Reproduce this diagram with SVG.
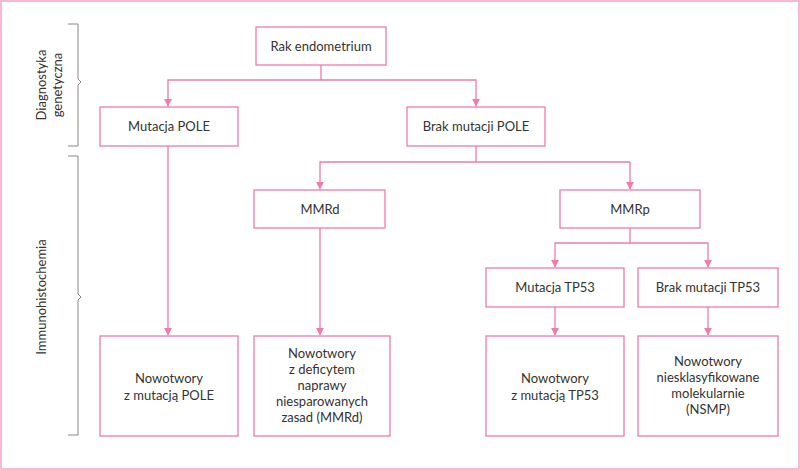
<svg xmlns="http://www.w3.org/2000/svg" width="800" height="470" viewBox="0 0 800 470">
<defs>
<marker id="ar" viewBox="0 0 10 10" refX="9" refY="5" markerWidth="8" markerHeight="8" markerUnits="userSpaceOnUse" orient="auto"><path d="M0,0L10,5L0,10z" fill="#f27aae"/></marker>
<style>
.n{fill:#fff;stroke:#f27aae;stroke-width:1.3}
.t{font-family:Lato,"Noto Sans",sans-serif;font-size:13px;fill:#333;text-anchor:middle}
.c{fill:none;stroke:#f27aae;stroke-width:1.3}
.b{fill:none;stroke:#888;stroke-width:1}
</style>
</defs>
<rect x="1" y="1" width="798" height="468" fill="#fff" stroke="#f5a3c7" stroke-width="1.5"/>
<g id="braces">
<path class="b" d="M68,24H78V79L81,82L78,85V146H68"/>
<path class="b" d="M68,156H78V294L81,297L78,300V435H68"/>
<text class="t" transform="translate(46,85) rotate(-90)">Diagnostyka</text>
<text class="t" transform="translate(62,85) rotate(-90)">genetyczna</text>
<text class="t" transform="translate(46,297) rotate(-90)">Immunohistochemia</text>
</g>
<g id="connectors">
<path class="c" d="M321,65V80H168V106" marker-end="url(#ar)"/>
<path class="c" d="M321,80H476V106" marker-end="url(#ar)"/>
<path class="c" d="M476,146V162H320V189" marker-end="url(#ar)"/>
<path class="c" d="M476,162H630V189" marker-end="url(#ar)"/>
<path class="c" d="M168,146V335" marker-end="url(#ar)"/>
<path class="c" d="M320,228V335" marker-end="url(#ar)"/>
<path class="c" d="M630,228V243H555V267" marker-end="url(#ar)"/>
<path class="c" d="M630,243H708V267" marker-end="url(#ar)"/>
<path class="c" d="M555,307V335" marker-end="url(#ar)"/>
<path class="c" d="M708,307V335" marker-end="url(#ar)"/>
</g>
<g id="rak"><rect class="n" x="256" y="27" width="130" height="38"/><text class="t" x="321" y="51">Rak endometrium</text></g>
<g id="pole"><rect class="n" x="100" y="107" width="138" height="39"/><text class="t" x="169" y="131">Mutacja POLE</text></g>
<g id="brakpole"><rect class="n" x="407" y="107" width="138" height="39"/><text class="t" x="476" y="131">Brak mutacji POLE</text></g>
<g id="mmrd"><rect class="n" x="254" y="190" width="131" height="38"/><text class="t" x="320" y="214">MMRd</text></g>
<g id="mmrp"><rect class="n" x="560" y="190" width="140" height="38"/><text class="t" x="630" y="214">MMRp</text></g>
<g id="tp53"><rect class="n" x="486" y="268" width="138" height="39"/><text class="t" x="555" y="292">Mutacja TP53</text></g>
<g id="braktp53"><rect class="n" x="638" y="268" width="140" height="39"/><text class="t" x="708" y="292">Brak mutacji TP53</text></g>
<g id="b1"><rect class="n" x="100" y="336" width="138" height="100"/><text class="t" x="169" y="383">Nowotwory</text><text class="t" x="169" y="400">z mutacją POLE</text></g>
<g id="b2"><rect class="n" x="254" y="336" width="136" height="100"/><text class="t" x="322" y="358">Nowotwory</text><text class="t" x="322" y="374">z deficytem</text><text class="t" x="322" y="390">naprawy</text><text class="t" x="322" y="406">niesparowanych</text><text class="t" x="322" y="422">zasad (MMRd)</text></g>
<g id="b3"><rect class="n" x="486" y="336" width="138" height="100"/><text class="t" x="555" y="383">Nowotwory</text><text class="t" x="555" y="400">z mutacją TP53</text></g>
<g id="b4"><rect class="n" x="638" y="336" width="140" height="100"/><text class="t" x="708" y="366">Nowotwory</text><text class="t" x="708" y="382">niesklasyfikowane</text><text class="t" x="708" y="398">molekularnie</text><text class="t" x="708" y="414">(NSMP)</text></g>
</svg>
